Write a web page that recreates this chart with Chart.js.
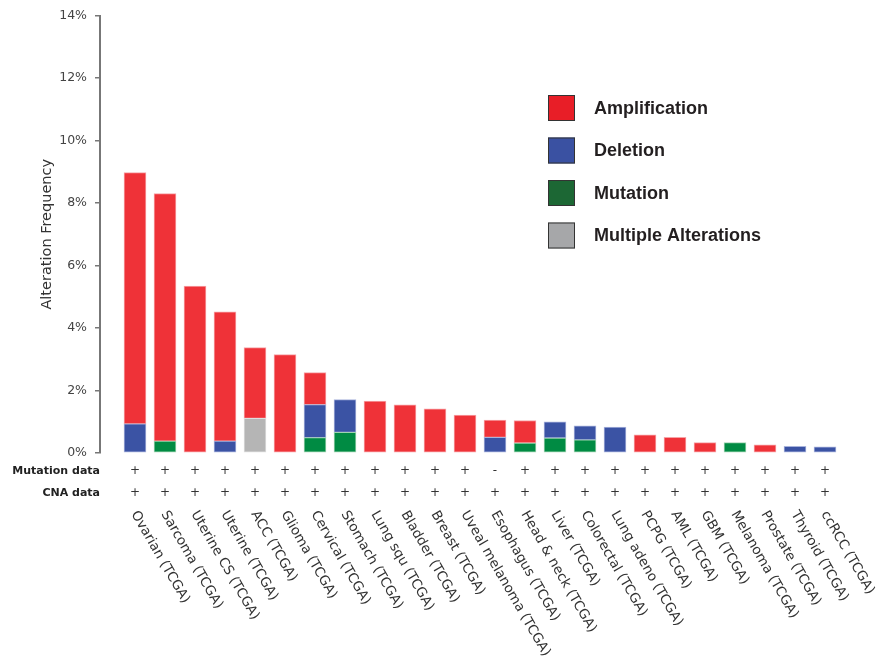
<!DOCTYPE html>
<html>
<head>
<meta charset="utf-8">
<script src="https://cdn.jsdelivr.net/npm/chart.js@4.4.1/dist/chart.umd.min.js"></script>
<style>
  html, body { margin: 0; padding: 0; background: #ffffff; }
  #wrap { width: 876px; height: 659px; }
</style>
</head>
<body>
<div id="wrap"><canvas id="c" width="876" height="659"></canvas></div>
<script>
// ---- data ----
const categories = [
  'Ovarian (TCGA)', 'Sarcoma (TCGA)', 'Uterine CS (TCGA)', 'Uterine (TCGA)', 'ACC (TCGA)',
  'Glioma (TCGA)', 'Cervical (TCGA)', 'Stomach (TCGA)', 'Lung squ (TCGA)', 'Bladder (TCGA)',
  'Breast (TCGA)', 'Uveal melanoma (TCGA)', 'Esophagus (TCGA)', 'Head & neck (TCGA)', 'Liver (TCGA)',
  'Colorectal (TCGA)', 'Lung adeno (TCGA)', 'PCPG (TCGA)', 'AML (TCGA)', 'GBM (TCGA)',
  'Melanoma (TCGA)', 'Prostate (TCGA)', 'Thyroid (TCGA)', 'ccRCC (TCGA)'
];
// alteration frequency in percent, per alteration type
const mutation      = [0,    0.38, 0,    0,    0,    0,    0.49, 0.66, 0,    0,    0,    0,    0,    0.32, 0.48, 0.42, 0,    0,    0,    0,    0.33, 0,    0,    0   ];
const multiple      = [0,    0,    0,    0,    1.11, 0,    0,    0,    0,    0,    0,    0,    0,    0,    0,    0,    0,    0,    0,    0,    0,    0,    0,    0   ];
const deletion      = [0.93, 0,    0,    0.38, 0,    0,    1.06, 1.05, 0,    0,    0,    0,    0.50, 0,    0.52, 0.45, 0.83, 0,    0,    0,    0,    0,    0.21, 0.20];
const amplification = [8.04, 7.92, 5.34, 4.14, 2.26, 3.15, 1.02, 0,    1.66, 1.54, 1.41, 1.21, 0.55, 0.72, 0,    0,    0,    0.58, 0.50, 0.33, 0,    0.26, 0,    0   ];
const mutationData  = ['+','+','+','+','+','+','+','+','+','+','+','+','-','+','+','+','+','+','+','+','+','+','+','+'];
const cnaData       = ['+','+','+','+','+','+','+','+','+','+','+','+','+','+','+','+','+','+','+','+','+','+','+','+'];
const yTicks = [0, 2, 4, 6, 8, 10, 12, 14];
const rowTitles = ['Mutation data', 'CNA data'];
const legendOrder = ['Amplification', 'Deletion', 'Mutation', 'Multiple Alterations'];

// ---- styles ----
const barColors = {
  'Amplification': '#ef3238',
  'Deletion': '#3b53a4',
  'Mutation': '#008b43',
  'Multiple Alterations': '#b5b5b5'
};
const barBorders = {
  'Amplification': '#f7a3a6',
  'Deletion': '#a8b3dc',
  'Mutation': '#9fd3b1',
  'Multiple Alterations': '#dedede'
};
const legendColors = {
  'Amplification': '#e81e27',
  'Deletion': '#3a51a2',
  'Mutation': '#1c6734',
  'Multiple Alterations': '#a6a7a9'
};

function toPoints(arr) {
  return arr.map((v, i) => ({ x: i, y: v === 0 ? null : v }));
}
function ds(label, arr) {
  return {
    label: label,
    data: toPoints(arr),
    backgroundColor: barColors[label],
    borderColor: barBorders[label],
    borderWidth: 1,
    barThickness: 22,
    borderSkipped: false
  };
}

const PX_PER_CAT = 30;
const X_MIN = -35 / PX_PER_CAT;
const PLOT_W = 756;
const X_MAX = X_MIN + PLOT_W / PX_PER_CAT;

const extraText = {
  id: 'extraText',
  afterDraw(chart) {
    const ctx = chart.ctx;
    const xs = chart.scales.x;
    const ys = chart.scales.y;
    const lh = 22;
    const firstRow = xs.top + 7 + lh / 2;
    ctx.save();
    // row titles
    ctx.fillStyle = '#222222';
    ctx.font = 'bold 11px "DejaVu Sans"';
    ctx.textAlign = 'right';
    ctx.textBaseline = 'middle';
    rowTitles.forEach((t, r) => ctx.fillText(t, ys.right, firstRow + r * lh));
    // rotated category names
    ctx.fillStyle = '#333333';
    ctx.font = '13.5px "DejaVu Sans"';
    ctx.textAlign = 'left';
    ctx.textBaseline = 'middle';
    categories.forEach((name, i) => {
      const px = xs.getPixelForValue(i);
      ctx.save();
      ctx.translate(px - 1, xs.top + 59);
      ctx.rotate(Math.PI / 3);
      ctx.fillText(name, 0, 0);
      ctx.restore();
    });
    // legend
    const lx = 548, ly0 = 108, lstep = 42.5, sw = 27, sh = 26;
    ctx.font = 'bold 18px "Liberation Sans", Arial, sans-serif';
    ctx.textAlign = 'left';
    ctx.textBaseline = 'middle';
    legendOrder.forEach((lab, k) => {
      const cy = ly0 + k * lstep;
      ctx.fillStyle = legendColors[lab];
      ctx.fillRect(lx, cy - sh / 2, sw, sh);
      ctx.strokeStyle = '#333333';
      ctx.lineWidth = 1;
      ctx.strokeRect(lx + 0.5, cy - sh / 2 + 0.5, sw - 1, sh - 1);
      ctx.fillStyle = '#231f20';
      ctx.fillText(lab, 594, cy + 1);
    });
    ctx.restore();
  }
};

new Chart(document.getElementById('c'), {
  type: 'bar',
  data: {
    datasets: [
      ds('Mutation', mutation),
      ds('Multiple Alterations', multiple),
      ds('Deletion', deletion),
      ds('Amplification', amplification)
    ]
  },
  options: {
    responsive: false,
    animation: false,
    events: [],
    layout: { padding: { left: 0, right: 876 - 100 - PLOT_W, top: 14, bottom: 0 } },
    plugins: {
      legend: { display: false },
      tooltip: { enabled: false }
    },
    scales: {
      x: {
        type: 'linear',
        stacked: true,
        offset: false,
        min: X_MIN,
        max: X_MAX,
        grid: { display: false, drawTicks: false, offset: false },
        border: { display: false },
        afterBuildTicks(scale) {
          scale.ticks = categories.map((c, i) => ({ value: i }));
        },
        afterFit(scale) { scale.height = 659 - 453; },
        ticks: {
          autoSkip: false,
          maxRotation: 0,
          minRotation: 0,
          padding: 7,
          color: '#333333',
          font: { family: '"DejaVu Sans"', size: 12, lineHeight: '22px' },
          callback: (v, i) => [mutationData[i], cnaData[i]]
        }
      },
      y: {
        stacked: true,
        min: 0,
        max: 14,
        afterBuildTicks(scale) {
          scale.ticks = yTicks.map(v => ({ value: v }));
        },
        afterFit(scale) { scale.width = 100; },
        grid: { drawOnChartArea: false, drawTicks: true, tickLength: 5, color: '#777777', lineWidth: 1.5 },
        border: { display: true, color: '#777777', width: 2 },
        ticks: {
          padding: 8,
          color: '#444444',
          font: { family: '"DejaVu Sans"', size: 12.5 },
          callback: v => v + '%'
        },
        title: {
          display: true,
          text: 'Alteration Frequency',
          color: '#333333',
          font: { family: '"DejaVu Sans"', size: 14.5 },
          padding: { top: 39, bottom: 0 }
        }
      }
    }
  },
  plugins: [extraText]
});
</script>
</body>
</html>
